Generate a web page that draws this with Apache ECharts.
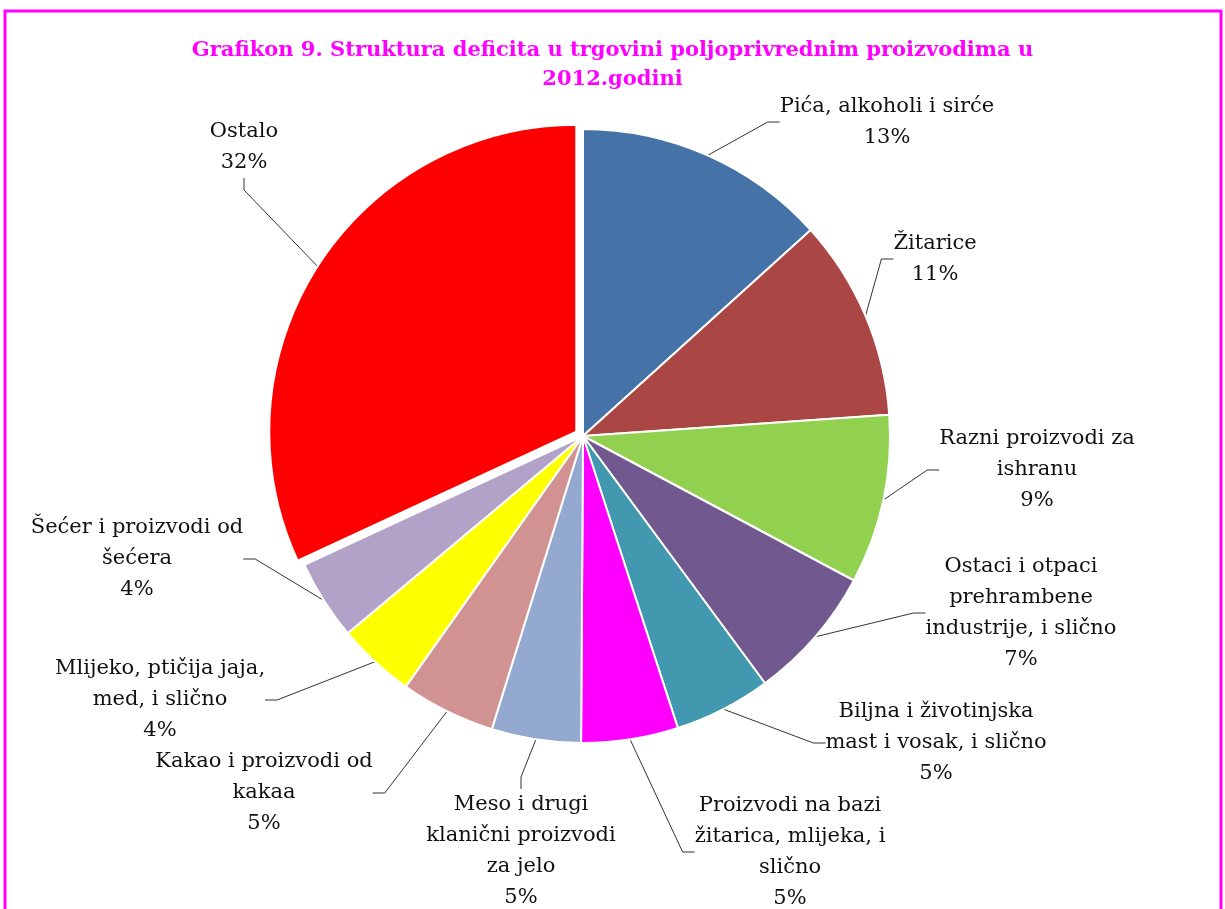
<!DOCTYPE html>
<html>
<head>
<meta charset="utf-8">
<script src="https://cdn.jsdelivr.net/npm/echarts@6/dist/echarts.min.js"></script>
<style>
  html, body { margin: 0; padding: 0; background: #fff; }
  #chart { width: 1225px; height: 909px; }
</style>
</head>
<body>
<div id="chart"></div>
<script>
// categories and shares (percent of deficit)
const categories = [
  'Pića, alkoholi i sirće',
  'Žitarice',
  'Razni proizvodi za\nishranu',
  'Ostaci i otpaci\nprehrambene\nindustrije, i slično',
  'Biljna i životinjska\nmast i vosak, i slično',
  'Proizvodi na bazi\nžitarica, mlijeka, i\nslično',
  'Meso i drugi\nklanični proizvodi\nza jelo',
  'Kakao i proizvodi od\nkakaa',
  'Mlijeko, ptičija jaja,\nmed, i slično',
  'Šećer i proizvodi od\nšećera',
  'Ostalo'
];
const values = [13.3, 10.6, 8.9, 7.1, 5.1, 5.1, 4.7, 5.0, 4.1, 4.2, 31.9];

const colors = ['#4572A7', '#AA4643', '#92D050', '#71588F', '#4198AF', '#FF00FF',
  '#93A9CF', '#D19392', '#FFFF00', '#B2A2C7', '#FF0000'];

// where each label block sits (centre of the text block)
const labelPos = [
  [887, 122], [935, 259], [1037, 470], [1021, 613], [936, 743], [790, 852],
  [521, 851], [264, 793], [160, 700], [137, 559], [244, 147]
];

const explodedName = 'Ostalo';
const pieCenter = [583, 436];
const pieRadius = 307;
const explodeOffset = 8;

// direction of the pulled-out slice, from its middle angle (clockwise from top)
const total = values.reduce((a, b) => a + b, 0);
const exIdx = categories.indexOf(explodedName);
const before = values.slice(0, exIdx).reduce((a, b) => a + b, 0);
const midAngle = (before + values[exIdx] / 2) / total * 2 * Math.PI;
const exCenter = [
  pieCenter[0] + Math.sin(midAngle) * explodeOffset,
  pieCenter[1] - Math.cos(midAngle) * explodeOffset
];

const chart = echarts.init(document.getElementById('chart'));

const labelBase = {
  show: true,
  position: 'outside',
  fontFamily: 'DejaVu Serif',
  fontSize: 21,
  lineHeight: 31,
  color: '#111',
  align: 'center',
  formatter: p => p.name + '\n' + Math.round(p.percent) + '%'
};

const lineBase = {
  show: true,
  length: 20,
  length2: 12,
  lineStyle: { color: '#333', width: 1 }
};

const hidden = {
  itemStyle: { opacity: 0, borderWidth: 0 },
  label: { show: false },
  labelLine: { show: false }
};

function pieSeries(center, showExploded) {
  return {
    type: 'pie',
    center: center,
    radius: pieRadius,
    startAngle: 90,
    clockwise: true,
    silent: true,
    itemStyle: { borderColor: '#fff', borderWidth: 2 },
    label: labelBase,
    labelLine: lineBase,
    labelLayout: params => {
      const pos = labelPos[params.dataIndex];
      return { x: pos[0], y: pos[1], align: 'center', verticalAlign: 'middle' };
    },
    data: categories.map((name, i) => {
      const item = { name: name, value: values[i], itemStyle: { color: colors[i] } };
      const isEx = name === explodedName;
      if (isEx !== showExploded) {
        return Object.assign(item, hidden, { itemStyle: { color: colors[i], opacity: 0, borderWidth: 0 } });
      }
      return item;
    })
  };
}

chart.setOption({
  animation: false,
  title: {
    text: 'Grafikon 9. Struktura deficita u trgovini poljoprivrednim proizvodima u\n2012.godini',
    left: 'center',
    top: 31,
    textStyle: {
      fontFamily: 'DejaVu Serif',
      fontWeight: 'bold',
      fontSize: 21,
      lineHeight: 29,
      color: '#FF00FF'
    }
  },
  graphic: [{
    type: 'rect',
    shape: { x: 5, y: 11, width: 1216, height: 1000 },
    style: { fill: 'none', stroke: '#FF00FF', lineWidth: 3 },
    silent: true
  }],
  series: [
    pieSeries(pieCenter, false),
    pieSeries(exCenter, true)
  ]
});
</script>
</body>
</html>
